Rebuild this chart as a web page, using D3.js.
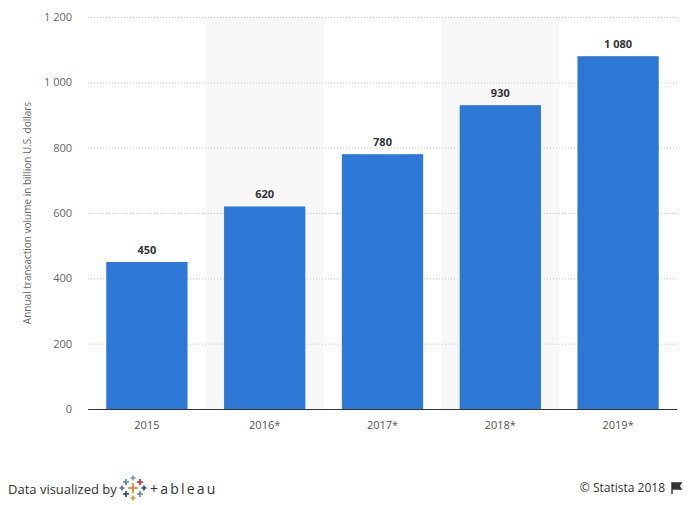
<!DOCTYPE html>
<html><head><meta charset="utf-8">
<script src="https://cdn.jsdelivr.net/npm/d3@7"></script>
<style>body{margin:0;background:#fff;font-family:"Open Sans",Arial,sans-serif}</style>
</head><body><svg id="chart" width="692" height="505"></svg>
<script>
const years = ['2015', '2016*', '2017*', '2018*', '2019*'];
const volumes = [450, 620, 780, 930, 1080];
const yTicks = [0, 200, 400, 600, 800, 1000, 1200];

const fmt = v => d3.format(',')(v).replace(/,/g, ' ');
const svg = d3.select('#chart');
const m = {left: 88, right: 677, top: 17, bottom: 409};

const x = d3.scaleBand().domain(years).range([m.left, m.right]).paddingInner(0.31).paddingOuter(0.155);
const xFull = d3.scaleBand().domain(years).range([m.left, m.right]);
const y = d3.scaleLinear().domain([0, 1200]).range([m.bottom, m.top]);

// alternating column shading
svg.selectAll('rect.shade').data(years.filter((d, i) => i % 2 === 1)).join('rect')
	.attr('x', d => xFull(d)).attr('width', xFull.bandwidth())
	.attr('y', m.top).attr('height', m.bottom - m.top)
	.attr('fill', '#f7f7f7');

// grid
svg.selectAll('line.grid').data(yTicks.slice(1)).join('line')
	.attr('x1', m.left).attr('x2', m.right)
	.attr('y1', d => y(d) + 0.5).attr('y2', d => y(d) + 0.5)
	.attr('stroke', '#c8c8c8').attr('stroke-dasharray', '1,2');

svg.selectAll('text.yt').data(yTicks).join('text')
	.attr('x', 72).attr('y', d => y(d) + 4).attr('text-anchor', 'end')
	.attr('font-size', 11).attr('fill', '#666').text(fmt);

svg.selectAll('rect.bar').data(volumes).join('rect')
	.attr('x', (d, i) => x(years[i])).attr('width', x.bandwidth())
	.attr('y', d => y(d)).attr('height', d => y(0) - y(d))
	.attr('fill', '#2d78d6');

svg.selectAll('text.val').data(volumes).join('text')
	.attr('x', (d, i) => x(years[i]) + x.bandwidth() / 2).attr('y', d => y(d) - 8)
	.attr('text-anchor', 'middle').attr('font-size', 11).attr('font-weight', 'bold')
	.attr('fill', '#333').text(fmt);

svg.append('line').attr('x1', m.left).attr('x2', m.right)
	.attr('y1', m.bottom + 0.5).attr('y2', m.bottom + 0.5).attr('stroke', '#333');

svg.selectAll('text.xt').data(years).join('text')
	.attr('x', d => xFull(d) + xFull.bandwidth() / 2).attr('y', 429)
	.attr('text-anchor', 'middle').attr('font-size', 11).attr('fill', '#555').text(d => d);

svg.append('text').attr('transform', 'translate(31,213) rotate(-90)')
	.attr('text-anchor', 'middle').attr('font-size', 10).attr('fill', '#666')
	.text('Annual transaction volume in billion U.S. dollars');

// footer
svg.append('text').attr('x', 8).attr('y', 494).attr('font-size', 13).attr('fill', '#333')
	.text('Data visualized by');
const logo = svg.append('g').attr('transform', 'translate(133,488)');
const crosses = [[0,0,'#e8762b',5],[-7,-6,'#5b879b',3],[7,-6,'#c72035',3],[-7,6,'#1f457e',3],[7,6,'#59879b',3],[0,-10,'#7099a6',2.5],[0,10,'#eb912b',2.5],[-11,0,'#5c6692',2.5],[11,0,'#1f447e',2.5]];
crosses.forEach(([cx, cy, c, r]) => {
	logo.append('path').attr('d', `M${cx - r},${cy}H${cx + r}M${cx},${cy - r}V${cy + r}`)
		.attr('stroke', c).attr('stroke-width', 1.6);
});
svg.append('text').attr('x', 150).attr('y', 494).attr('font-size', 14).attr('fill', '#333')
	.attr('letter-spacing', 2.2).text('+ableau');
svg.append('text').attr('x', 665).attr('y', 492).attr('text-anchor', 'end')
	.attr('font-size', 12).attr('fill', '#333').text('© Statista 2018');
svg.append('path').attr('d', 'M672,482V494M672,483H681L679,486L681,489H672').attr('fill', '#333').attr('stroke', '#333').attr('stroke-width', 1.4);
</script></body></html>
